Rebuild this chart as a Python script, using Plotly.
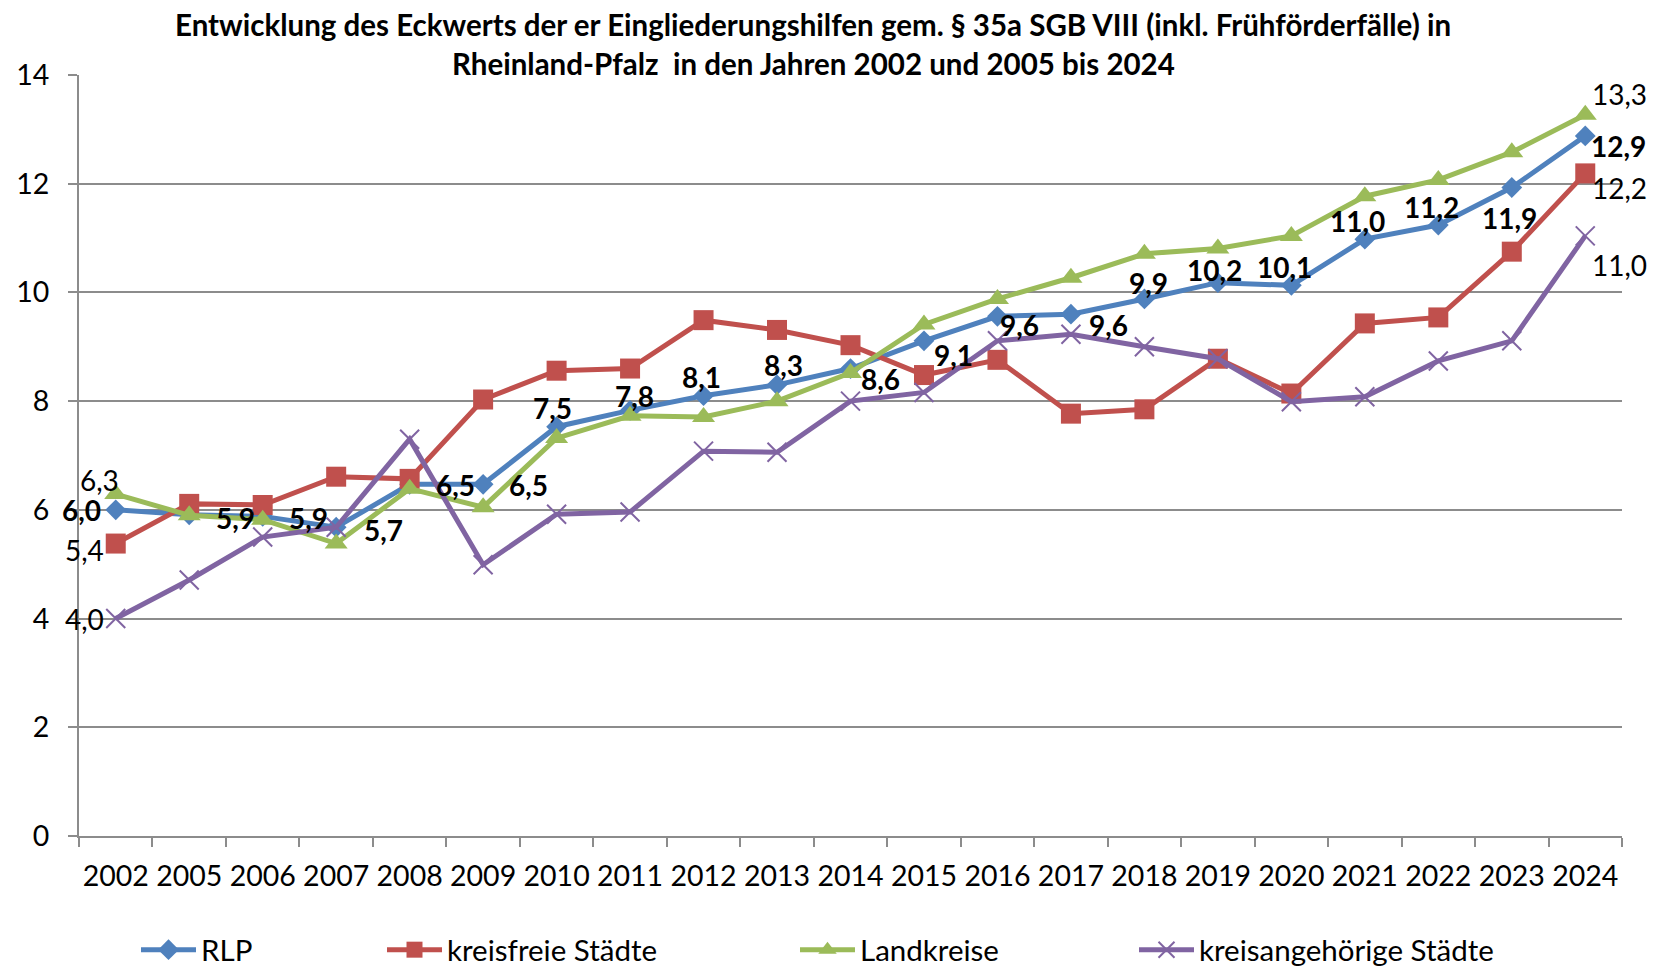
import plotly.graph_objects as go

years = ["2002", "2005", "2006", "2007", "2008", "2009", "2010", "2011", "2012", "2013",
         "2014", "2015", "2016", "2017", "2018", "2019", "2020", "2021", "2022", "2023", "2024"]

rlp = [6.0, 5.91, 5.88, 5.68, 6.47, 6.47, 7.53, 7.83, 8.1, 8.3,
       8.6, 9.11, 9.56, 9.6, 9.88, 10.18, 10.13, 10.98, 11.24, 11.93, 12.88]
kreisfreie = [5.38, 6.11, 6.09, 6.61, 6.57, 8.03, 8.56, 8.6, 9.49, 9.31,
              9.03, 8.48, 8.76, 7.77, 7.85, 8.78, 8.14, 9.43, 9.54, 10.75, 12.19]
landkreise = [6.29, 5.9, 5.82, 5.38, 6.39, 6.05, 7.32, 7.73, 7.71, 8.0,
              8.52, 9.41, 9.88, 10.27, 10.71, 10.81, 11.04, 11.77, 12.07, 12.58, 13.27]
kreisangehoerige = [4.0, 4.71, 5.5, 5.68, 7.3, 4.99, 5.92, 5.96, 7.08, 7.06,
                    8.0, 8.16, 9.11, 9.23, 9.0, 8.78, 7.99, 8.08, 8.74, 9.11, 11.04]

names = ["RLP", "kreisfreie Städte", "Landkreise", "kreisangehörige Städte"]
y_ticks = [0, 2, 4, 6, 8, 10, 12, 14]

title_l1 = "Entwicklung des Eckwerts der er Eingliederungshilfen gem. § 35a SGB VIII (inkl. Frühförderfälle) in"
title_l2 = "Rheinland-Pfalz  in den Jahren 2002 und 2005 bis 2024"

FONT = "Lato, 'Open Sans', sans-serif"
colors = ["#4F81BD", "#C0504D", "#9BBB59", "#8064A2"]
GRID = "#8C8C8C"

# page has an 8px body margin; figure is sized to fill the rest of the window
FIG_W, FIG_H = 1672, 958

fig = go.Figure()

styles = [
    dict(symbol="diamond", size=16, line=dict(width=0)),
    dict(symbol="square", size=20, line=dict(width=0)),
    dict(symbol="triangle-up", size=20, line=dict(width=0)),
    dict(symbol="x-thin", size=19, line=dict(width=2, color=colors[3])),
]
series = [rlp, kreisfreie, landkreise, kreisangehoerige]
legends = ["legend", "legend2", "legend3", "legend4"]

for i, (s, nm) in enumerate(zip(series, names)):
    fig.add_trace(go.Scatter(
        x=years, y=s, name=nm, mode="lines+markers",
        line=dict(color=colors[i], width=5),
        marker=dict(color=colors[i], **styles[i]),
        legend=legends[i], hoverinfo="skip", cliponaxis=False,
    ))

def fmt(v):
    return f"{v:.1f}".replace(".", ",")

LBL = 28
# label offsets (dx, dy) in screen pixels, dy positive = downward
rlp_off = [(-34, 0), (46, 3), (46, 2), (47, 3), (46, 1), (45, 1), (-4, -19), (4, -14),
           (-2, -19), (6, -20), (30, 10), (30, 14), (22, 9), (38, 11), (4, -16),
           (-3, -13), (-7, -18), (-7, -18), (-7, -18), (-2, 30), (33, 10)]
annotations = []
for idx, (v, (dx, dy)) in enumerate(zip(rlp, rlp_off)):
    annotations.append(dict(x=idx, y=v, xref="x", yref="y", text=fmt(v), showarrow=False,
                            xshift=dx, yshift=-dy, xanchor="center", yanchor="middle",
                            font=dict(family=FONT, size=LBL, color="black", weight="bold")))

end_off = {
    1: [(-31, 6), (34, 15)],
    2: [(-16, -14), (34, -21)],
    3: [(-31, 0), (34, 29)],
}
for si, offs in end_off.items():
    s = series[si]
    for idx, (dx, dy) in zip([0, len(years) - 1], offs):
        annotations.append(dict(x=idx, y=s[idx], xref="x", yref="y", text=fmt(s[idx]),
                                showarrow=False, xshift=dx, yshift=-dy,
                                xanchor="center", yanchor="middle",
                                font=dict(family=FONT, size=LBL, color="black")))

annotations.append(dict(xref="paper", yref="paper", x=0.476, y=1, yshift=51, text=title_l1,
                        showarrow=False, xanchor="center", yanchor="middle",
                        font=dict(family=FONT, size=29.5, color="black", weight="bold")))
annotations.append(dict(xref="paper", yref="paper", x=0.476, y=1, yshift=12, text=title_l2,
                        showarrow=False, xanchor="center", yanchor="middle",
                        font=dict(family=FONT, size=29.5, color="black", weight="bold")))

leg_x = [128, 374, 787, 1126]
leg_common = dict(orientation="h", xref="container", yref="container", y=(966 - 950) / FIG_H,
                  yanchor="middle", xanchor="left", itemwidth=55,
                  font=dict(family=FONT, size=29.5, color="black"),
                  bgcolor="rgba(0,0,0,0)")

fig.update_layout(
    width=FIG_W, height=FIG_H,
    margin=dict(l=71, r=58, t=67, b=130),
    paper_bgcolor="white", plot_bgcolor="white",
    showlegend=True,
    legend=dict(x=leg_x[0] / FIG_W, **leg_common),
    legend2=dict(x=leg_x[1] / FIG_W, **leg_common),
    legend3=dict(x=leg_x[2] / FIG_W, **leg_common),
    legend4=dict(x=leg_x[3] / FIG_W, **leg_common),
    annotations=annotations,
    font=dict(family=FONT, size=28, color="black"),
)

fig.update_xaxes(
    type="category", tickson="boundaries", ticks="outside", ticklen=9, tickwidth=1.5,
    tickcolor=GRID, showline=True, linecolor=GRID, linewidth=2, showgrid=False,
    tickfont=dict(family=FONT, size=28.5, color="black"), ticklabelstandoff=14,
    tickangle=0, automargin=False,
    range=[-0.5, len(years) - 0.5], fixedrange=True,
)
fig.update_yaxes(
    range=[0, 14], tickvals=y_ticks, ticktext=[str(t) for t in y_ticks],
    ticks="outside", ticklen=9, tickwidth=1.5, tickcolor=GRID,
    showline=True, linecolor=GRID, linewidth=2,
    showgrid=True, gridcolor=GRID, gridwidth=1.5, zeroline=False,
    tickfont=dict(family=FONT, size=28.5, color="black"), ticklabelstandoff=13,
    automargin=False, fixedrange=True,
)

fig.write_html("out.html")
